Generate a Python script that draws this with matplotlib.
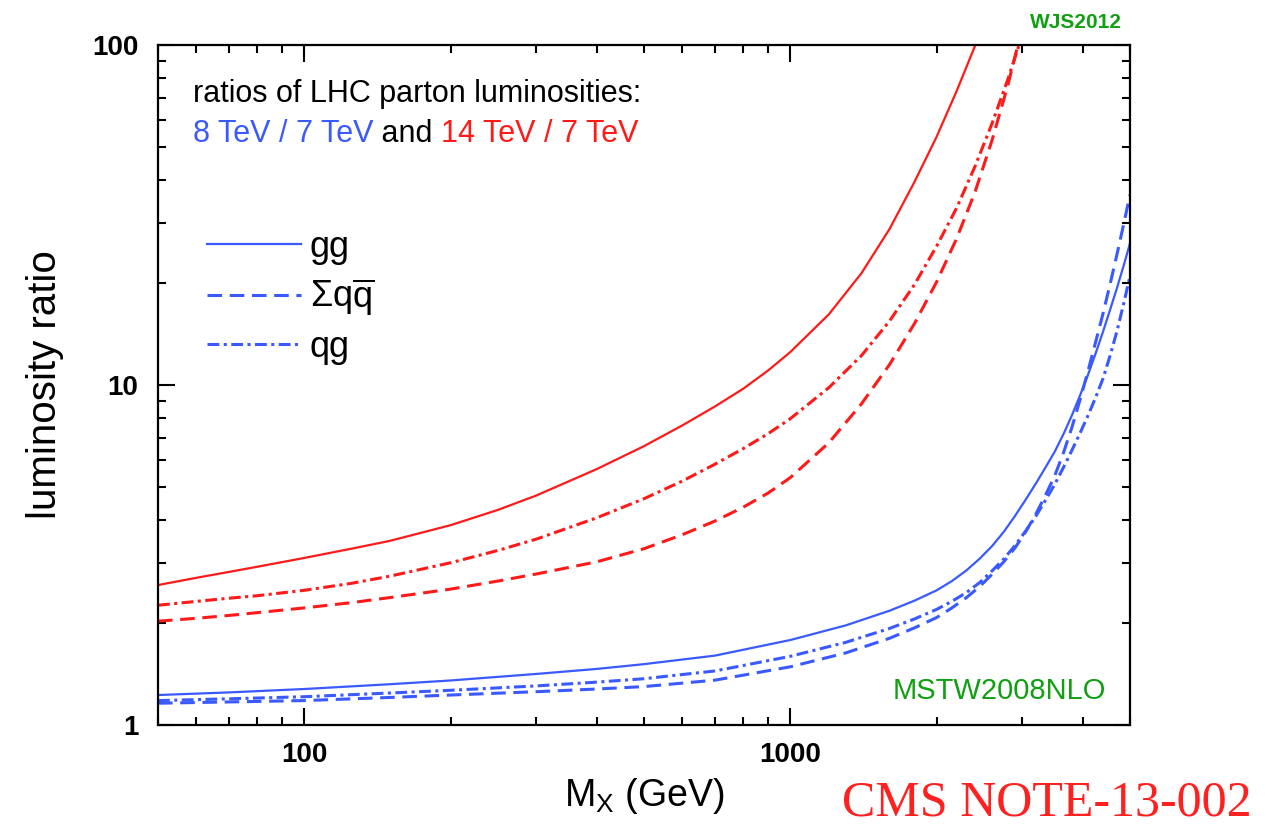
import matplotlib
matplotlib.use('Agg')
import matplotlib.pyplot as plt
from matplotlib.ticker import FixedLocator, LogLocator, NullFormatter, FixedFormatter

plt.rcParams['font.family'] = ['Liberation Sans', 'DejaVu Sans']
plt.rcParams['mathtext.fontset'] = 'custom'
plt.rcParams['mathtext.rm'] = 'Liberation Sans'
plt.rcParams['mathtext.it'] = 'Liberation Sans'
plt.rcParams['mathtext.bf'] = 'Liberation Sans:bold'
plt.rcParams['lines.scale_dashes'] = False

# ---------------- data ----------------
# 14 TeV / 7 TeV
m_gg14 = [50, 60, 70, 80, 100, 125, 150, 200, 250, 300, 400, 500, 600, 700, 800, 900,
          1000, 1200, 1400, 1600, 1800, 2000, 2200, 2400, 2500]
r_gg14 = [2.58, 2.71, 2.82, 2.92, 3.10, 3.30, 3.48, 3.87, 4.29, 4.73, 5.66, 6.61, 7.61, 8.65, 9.75, 11.03,
          12.50, 16.13, 21.29, 28.75, 39.5, 53.7, 73.3, 99.5, 116]

m_qg14 = [50, 60, 70, 80, 100, 125, 150, 200, 250, 300, 400, 500, 600, 700, 800, 900,
          1000, 1200, 1400, 1600, 1800, 2000, 2200, 2400, 2600, 2800, 2950, 3050]
r_qg14 = [2.25, 2.31, 2.36, 2.40, 2.49, 2.61, 2.74, 3.00, 3.26, 3.52, 4.07, 4.63, 5.22, 5.85, 6.50, 7.19,
          7.96, 9.82, 12.19, 15.42, 19.72, 25.6, 33.2, 44.0, 58.7, 78.9, 99.1, 114.8]

m_qq14 = [50, 60, 70, 80, 100, 125, 150, 200, 250, 300, 400, 500, 600, 700, 800, 900,
          1000, 1200, 1400, 1600, 1800, 2000, 2200, 2400, 2600, 2800, 2950, 3000]
r_qq14 = [2.02, 2.06, 2.10, 2.14, 2.21, 2.29, 2.37, 2.51, 2.65, 2.78, 3.02, 3.30, 3.63, 3.98, 4.37, 4.81,
          5.34, 6.76, 8.79, 11.48, 15.14, 20.1, 27.0, 37.0, 52.4, 75.7, 101.9, 112]

# 8 TeV / 7 TeV
m_8 = [50, 70, 100, 150, 200, 300, 400, 500, 700, 1000, 1300, 1600, 1800, 2000, 2150, 2300, 2450,
       2600, 2750, 2900, 3050, 3200, 3350, 3500, 3650, 3800, 3950, 4100, 4250, 4400, 4550, 4700,
       4850, 5000]
r_gg8 = [1.225, 1.247, 1.276, 1.318, 1.352, 1.413, 1.462, 1.510, 1.600, 1.778, 1.963, 2.168, 2.32,
         2.489, 2.65, 2.844, 3.08, 3.357, 3.70, 4.121, 4.60, 5.129, 5.72, 6.368, 7.18, 8.166, 9.35,
         10.74, 12.40, 14.35, 16.65, 19.28, 22.4, 26.1]
r_qq8 = [1.159, 1.169, 1.180, 1.205, 1.225, 1.253, 1.276, 1.297, 1.355, 1.483, 1.629, 1.799, 1.93,
         2.070, 2.21, 2.366, 2.55, 2.773, 3.02, 3.319, 3.70, 4.169, 4.74, 5.408, 6.33, 7.534, 9.10,
         11.02, 13.40, 16.22, 19.80, 24.21, 29.6, 36.3]
r_qg8 = [1.180, 1.194, 1.211, 1.242, 1.265, 1.303, 1.337, 1.368, 1.442, 1.592, 1.750, 1.923, 2.05,
         2.188, 2.31, 2.449, 2.62, 2.838, 3.08, 3.373, 3.72, 4.111, 4.58, 5.105, 5.73, 6.442, 7.24,
         8.147, 9.20, 10.45, 12.20, 14.39, 17.30, 20.9]

legend_labels = ['gg', r'$\Sigma q\overline{q}$', 'qg']
x_ticks = [100, 1000]
x_ticklabels = ['100', '1000']
y_ticks = [1, 10, 100]
y_ticklabels = ['1', '10', '100']

RED = '#ff1a1a'
BLUE = '#3a5aff'
GREEN = '#11a011'

DASH = (0, (10.5, 5.5))
DASHDOT = (0, (8.5, 3.2, 2.2, 3.2))

fig = plt.figure(figsize=(12.69, 8.27), dpi=100)
ax = fig.add_axes([158 / 1269, 1 - 725 / 827, 972 / 1269, 680 / 827])
ax.set_xscale('log')
ax.set_yscale('log')
ax.set_xlim(50, 5000)
ax.set_ylim(1, 100)

ax.plot(m_gg14, r_gg14, color=RED, lw=1.6, ls='-')
ax.plot(m_qg14, r_qg14, color=RED, lw=2.2, ls=DASHDOT)
ax.plot(m_qq14, r_qq14, color=RED, lw=2.2, ls=DASH)

h1, = ax.plot(m_8, r_gg8, color=BLUE, lw=1.6, ls='-')
h2, = ax.plot(m_8, r_qq8, color=BLUE, lw=2.2, ls=DASH)
h3, = ax.plot(m_8, r_qg8, color=BLUE, lw=2.2, ls=DASHDOT)

# ticks
ax.xaxis.set_major_locator(FixedLocator(x_ticks))
ax.xaxis.set_major_formatter(FixedFormatter(x_ticklabels))
ax.xaxis.set_minor_locator(LogLocator(base=10, subs=range(2, 10), numticks=20))
ax.xaxis.set_minor_formatter(NullFormatter())
ax.yaxis.set_major_locator(FixedLocator(y_ticks))
ax.yaxis.set_major_formatter(FixedFormatter(y_ticklabels))
ax.yaxis.set_minor_locator(LogLocator(base=10, subs=range(2, 10), numticks=20))
ax.yaxis.set_minor_formatter(NullFormatter())

ax.tick_params(which='both', direction='in', top=True, right=True, width=1.5, color='black')
ax.tick_params(which='major', length=12)
ax.tick_params(which='minor', length=6)
ax.tick_params(axis='x', which='major', pad=12, labelsize=20)
ax.tick_params(axis='y', which='major', pad=14, labelsize=20)
for lab in ax.get_xticklabels() + ax.get_yticklabels():
    lab.set_fontweight('bold')
for sp in ax.spines.values():
    sp.set_linewidth(1.6)

ax.set_xlabel(r'M$_\mathrm{X}$ (GeV)', fontsize=27, labelpad=6)
ax.set_ylabel('luminosity ratio', fontsize=29, labelpad=20)

# header text
ax.text(0.036, 0.916, 'ratios of LHC parton luminosities:', transform=ax.transAxes,
        fontsize=22, color='black', va='baseline', ha='left')
t1 = ax.text(0.036, 0.857, '8 TeV / 7 TeV', transform=ax.transAxes,
             fontsize=22, color=BLUE, va='baseline', ha='left')
t2 = ax.annotate(' and ', xycoords=t1, xy=(1, 0), va='bottom', ha='left',
                 fontsize=22, color='black')
ax.annotate('14 TeV / 7 TeV', xycoords=t2, xy=(1, 0), va='bottom', ha='left',
            fontsize=22, color=RED)

leg = ax.legend([h1, h2, h3], legend_labels, loc='upper left',
                bbox_to_anchor=((207 - 158) / 972, (725 - 230) / 680),
                frameon=False, fontsize=26, handlelength=2.6, handletextpad=0.25,
                labelspacing=0.32, borderpad=0, borderaxespad=0)

ax.text(0.975, 0.038, 'MSTW2008NLO', transform=ax.transAxes, fontsize=21,
        color=GREEN, ha='right', va='baseline')
fig.text(1122 / 1269, 1 - 28 / 827, 'WJS2012', fontsize=15, fontweight='bold',
         color=GREEN, ha='right', va='baseline')
fig.text(842 / 1269, 1 - 815 / 827, 'CMS NOTE-13-002', family='Liberation Serif',
         fontsize=36, color='#ff2020', ha='left', va='baseline')

fig.savefig('out.png', dpi=100)
